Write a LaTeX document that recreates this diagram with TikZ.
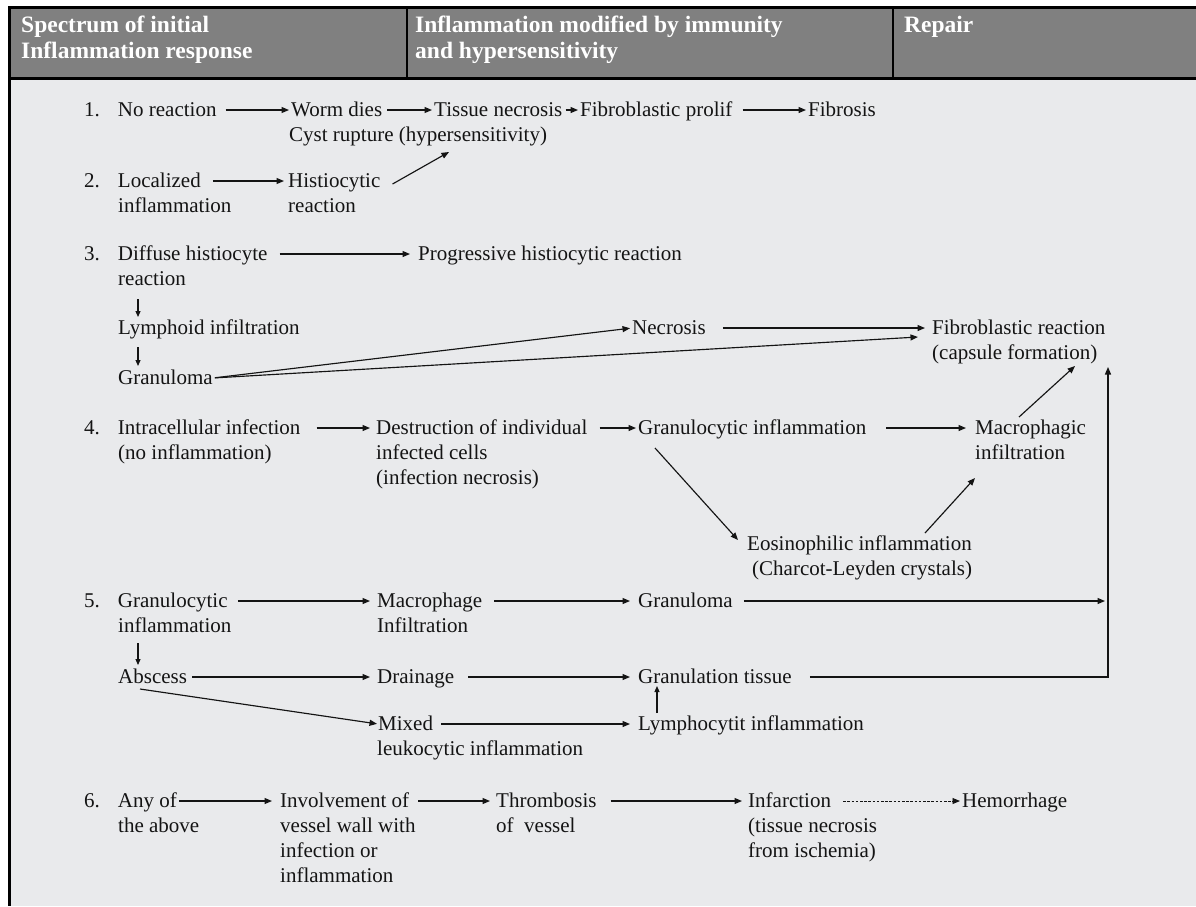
\documentclass[tikz,border=0pt]{standalone}
\usepackage{fontspec}
\setmainfont{Liberation Serif}
\usetikzlibrary{arrows.meta,calc}
\definecolor{hgray}{RGB}{128,128,128}
\definecolor{bgray}{RGB}{233,234,236}
\definecolor{ink}{RGB}{20,20,20}
\begin{document}
\begin{tikzpicture}[x=1pt,y=-1pt,
  txt/.style={anchor=west,inner sep=0pt,text height=12pt,text depth=0pt,font=\fontsize{21}{25}\selectfont,text=ink},
  hdr/.style={anchor=base west,inner sep=0pt,font=\fontsize{23.5}{26}\selectfont\bfseries,text=white},
  arr/.style={draw=ink,line width=1.15pt,-{Triangle[length=7.5pt,width=6pt]}},
  dotarr/.style={draw=ink,line width=0.9pt,dash pattern=on 2.6pt off 1.6pt,-{Triangle[length=7.5pt,width=6pt]}},
  small/.style={-{Triangle[length=6pt,width=5pt]}}
]
\useasboundingbox (0,0) rectangle (1196,906);
\fill[white] (0,0) rectangle (1196,906);
\fill[hgray] (9,7) rectangle (1196,79);
\fill[bgray] (9,79) rectangle (1196,906);
\draw[line width=3pt] (1196,7.5) -- (9.5,7.5) -- (9.5,906);
\draw[line width=3pt] (9.5,78.5) -- (1196,78.5);
\draw[line width=2pt] (407,7.5) -- (407,78.5);
\draw[line width=2pt] (893,7.5) -- (893,78.5);

% header
\node[hdr] (h1a) at (21,32) {Spectrum of initial};
\node[hdr] (h1b) at (21,58) {Inflammation response};
\node[hdr] (h2a) at (415,32) {Inflammation modified by immunity};
\node[hdr] (h2b) at (415,58) {and hypersensitivity};
\node[hdr] (h3) at (904,32) {Repair};

% row 1
\node[txt] (n1) at (84,110) {1.\hspace{18pt}No reaction};
\node[txt] (worm) at (291,110) {Worm dies};
\node[txt] (cyst) at (289,135) {Cyst rupture (hypersensitivity)};
\node[txt] (tnec) at (434,110) {Tissue necrosis};
\node[txt] (fprol) at (580,110) {Fibroblastic prolif};
\node[txt] (fibr) at (808,110) {Fibrosis};

% row 2
\node[txt] (n2) at (84,181) {2.\hspace{18pt}Localized};
\node[txt] (n2b) at (118,206) {inflammation};
\node[txt] (hist) at (288,181) {Histiocytic};
\node[txt] (histb) at (288,206) {reaction};

% row 3
\node[txt] (n3) at (84,254) {3.\hspace{18pt}Diffuse histiocyte};
\node[txt] (n3b) at (118,279) {reaction};
\node[txt] (prog) at (418,254) {Progressive histiocytic reaction};
\node[txt] (lym) at (118,328) {Lymphoid infiltration};
\node[txt] (gran3) at (118,378) {Granuloma};
\node[txt] (necr) at (632,328) {Necrosis};
\node[txt] (fib) at (932,328) {Fibroblastic reaction};
\node[txt] (caps) at (932,353) {(capsule formation)};

% row 4
\node[txt] (n4) at (84,428) {4.\hspace{18pt}Intracellular infection};
\node[txt] (n4b) at (118,453) {(no inflammation)};
\node[txt] (destr) at (376,428) {Destruction of individual};
\node[txt] (destrb) at (376,453) {infected cells};
\node[txt] (destrc) at (376,478) {(infection necrosis)};
\node[txt] (gran4) at (638,428) {Granulocytic inflammation};
\node[txt] (macro) at (975,428) {Macrophagic};
\node[txt] (macrob) at (975,453) {infiltration};
\node[txt] (eos) at (747,544) {Eosinophilic inflammation};
\node[txt] (eosb) at (752,569) {(Charcot-Leyden crystals)};

% row 5
\node[txt] (n5) at (84,601) {5.\hspace{18pt}Granulocytic};
\node[txt] (n5b) at (118,626) {inflammation};
\node[txt] (mph) at (377,601) {Macrophage};
\node[txt] (mphb) at (377,626) {Infiltration};
\node[txt] (gran5) at (638,601) {Granuloma};
\node[txt] (absc) at (118,677) {Abscess};
\node[txt] (drain) at (377,677) {Drainage};
\node[txt] (glt) at (638,677) {Granulation tissue};
\node[txt] (mixed) at (378,724) {Mixed};
\node[txt] (mixedb) at (377,749) {leukocytic inflammation};
\node[txt] (lymc) at (638,724) {Lymphocytit inflammation};

% row 6
\node[txt] (n6) at (84,801) {6.\hspace{18pt}Any of};
\node[txt] (n6b) at (118,826) {the above};
\node[txt] (inv) at (280,801) {Involvement of};
\node[txt] (invb) at (280,826) {vessel wall with};
\node[txt] (invc) at (280,851) {infection or};
\node[txt] (invd) at (280,876) {inflammation};
\node[txt] (thr) at (496,801) {Thrombosis};
\node[txt] (thrb) at (496,826) {of\ \ vessel};
\node[txt] (inf) at (748,801) {Infarction};
\node[txt] (infb) at (748,826) {(tissue necrosis};
\node[txt] (infc) at (748,851) {from ischemia)};
\node[txt] (hem) at (962,801) {Hemorrhage};

\coordinate (rc) at (1108,677);
\coordinate (rt) at (1108,367);

% connectors rows 1-2
\draw[arr,shorten <=9pt,shorten >=2pt] (n1.east) -- (worm.west);
\draw[arr,shorten <=5pt,shorten >=2pt] (worm.east) -- (tnec.west);
\draw[arr,shorten <=3pt,shorten >=2pt] (tnec.east) -- (fprol.west);
\draw[arr,shorten <=10pt,shorten >=2pt] (fprol.east) -- (fibr.west);
\draw[arr,shorten <=12pt,shorten >=4pt] (n2.east) -- (hist.west);
\draw[arr] ($(hist.east)+(12,3)$) -- ($(cyst.west)+(160,17)$);

% row 3
\draw[arr,shorten <=12pt,shorten >=8pt] (n3.east) -- (prog.west);
\draw[arr,small] ($(n3b.west)+(20,20)$) -- ($(lym.west)+(20,-11)$);
\draw[arr,small] ($(lym.west)+(20,19)$) -- ($(gran3.west)+(20,-12)$);
\draw[arr,shorten <=2pt,shorten >=2pt] (gran3.east) -- (necr.west);
\draw[arr,shorten <=2pt] (gran3.east) -- ($(fib.west)+(-14,9)$);
\draw[arr,shorten <=17pt,shorten >=7pt] (necr.east) -- (fib.west);

% row 4
\draw[arr,shorten <=16pt,shorten >=6pt] (n4.east) -- (destr.west);
\draw[arr,shorten <=12pt,shorten >=2pt] (destr.east) -- (gran4.west);
\draw[arr,shorten <=20pt,shorten >=9pt] (gran4.east) -- (macro.west);
\draw[arr] ($(gran4.west)+(17,20)$) -- ($(eos.west)+(-9,-4)$);
\draw[arr] ($(eos.west)+(178,-11)$) -- ($(macro.west)+(0,50)$);
\draw[arr] ($(macro.west)+(44,-11)$) -- ($(caps.west)+(143,13)$);

% row 5
\draw[arr,shorten <=10pt,shorten >=7pt] (n5.east) -- (mph.west);
\draw[arr,shorten <=12pt,shorten >=8pt] (mph.east) -- (gran5.west);
\draw[arr,shorten <=11pt,shorten >=3pt] (gran5.east) -- (gran5.east -| rc);
\draw[arr,small] ($(n5b.west)+(20,17)$) -- ($(absc.west)+(20,-12)$);
\draw[arr,shorten <=5pt,shorten >=7pt] (absc.east) -- (drain.west);
\draw[arr,shorten <=14pt,shorten >=8pt] (drain.east) -- (glt.west);
\draw[arr,shorten >=1pt] ($(absc.west)+(22,12)$) -- (mixed.west);
\draw[arr,shorten <=8pt,shorten >=8pt] (mixed.east) -- (lymc.west);
\draw[arr,small] ($(lymc.west)+(19,-11)$) -- ($(glt.west)+(19,9)$);
\draw[arr,shorten <=18pt] (glt.east) -- (rc) -- (rt);

% row 6
\draw[arr,shorten <=2pt,shorten >=8pt] (n6.east) -- (inv.west);
\draw[arr,shorten <=9pt,shorten >=6pt] (inv.east) -- (thr.west);
\draw[arr,shorten <=14pt,shorten >=6pt] (thr.east) -- (inf.west);
\draw[dotarr,shorten <=12pt,shorten >=2pt] (inf.east) -- (hem.west);
\end{tikzpicture}
\end{document}
